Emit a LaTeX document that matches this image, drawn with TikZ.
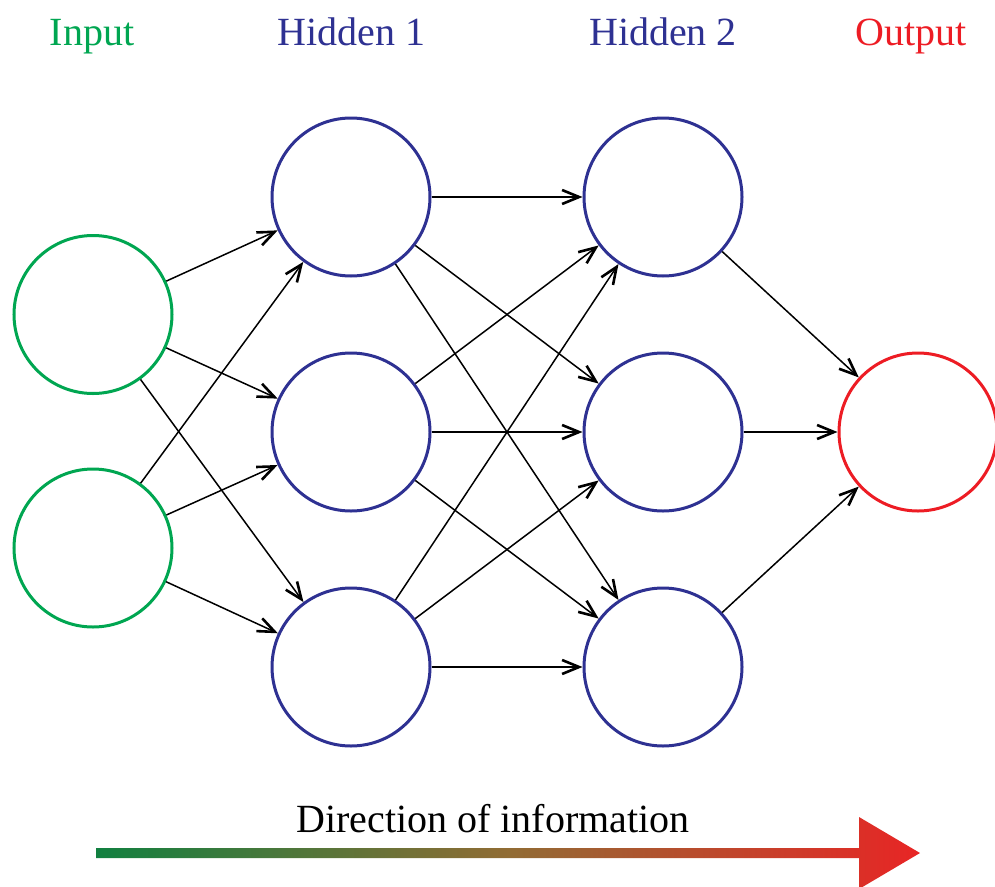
\documentclass[tikz,border=0pt]{standalone}
\usepackage{fontspec}
\setmainfont{Liberation Serif}
\usetikzlibrary{arrows.meta}
\definecolor{ingreen}{HTML}{00A651}
\definecolor{hidblue}{HTML}{2E3192}
\definecolor{outred}{HTML}{ED1C24}
\definecolor{gradgreen}{RGB}{17,128,64}
\definecolor{gradmid}{RGB}{145,108,52}
\definecolor{gradred}{RGB}{232,37,37}
\begin{document}
\begin{tikzpicture}[x=1pt,y=-1pt,
  neuron/.style={circle,minimum size=158pt,inner sep=0pt,line width=3pt,fill=white},
  innode/.style={neuron,draw=ingreen},
  hidnode/.style={neuron,draw=hidblue},
  outnode/.style={neuron,draw=outred},
  layerlabel/.style={font=\fontsize{40}{48}\selectfont,anchor=base,inner sep=0pt},
  conn/.style={line width=1.5pt,-{Straight Barb[length=17pt,width=14pt,line width=2.6pt]}}
]
\useasboundingbox (0,0) rectangle (995,886);

% layer labels
\node[layerlabel,text=ingreen] (lin) at (92,45) {Input};
\node[layerlabel,text=hidblue] (lh1) at (351.5,45) {Hidden 1};
\node[layerlabel,text=hidblue] (lh2) at (663,45) {Hidden 2};
\node[layerlabel,text=outred] (lout) at (911,45) {Output};

% neurons
\node[innode] (i1) at (93,314.5) {};
\node[innode] (i2) at (93,548) {};
\node[hidnode] (a1) at (351,197) {};
\node[hidnode] (a2) at (351,432) {};
\node[hidnode] (a3) at (351,667) {};
\node[hidnode] (b1) at (663,197) {};
\node[hidnode] (b2) at (663,432) {};
\node[hidnode] (b3) at (663,667) {};
\node[outnode] (o) at (918,432) {};

% connections
\foreach \s in {i1,i2}
  \foreach \t in {a1,a2,a3}
    \draw[conn] (\s) -- (\t);
\foreach \s in {a1,a2,a3}
  \foreach \t in {b1,b2,b3}
    \draw[conn] (\s) -- (\t);
\foreach \s in {b1,b2,b3}
  \draw[conn] (\s) -- (o);

% direction of information
\node[layerlabel,text=black] (dir) at (493,832) {Direction of information};
\shade[left color=gradgreen,right color=gradred,middle color=gradmid]
  (96,848) -- (859,848) -- (859,817) -- (920,853) -- (859,889) -- (859,858) -- (96,858) -- cycle;
\end{tikzpicture}
\end{document}
